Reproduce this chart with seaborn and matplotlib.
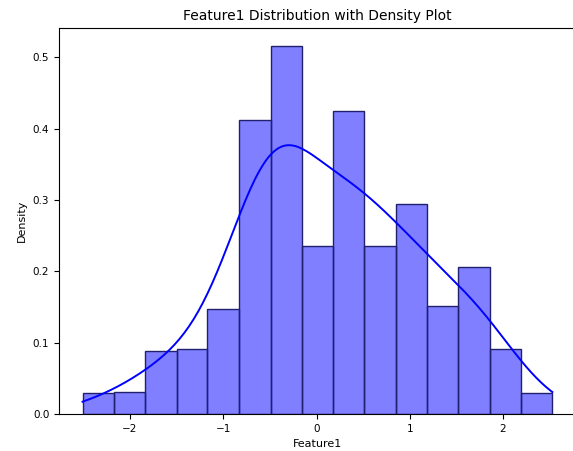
import numpy as np
import pandas as pd
import matplotlib
matplotlib.use("Agg")
import matplotlib.pyplot as plt
import seaborn as sns

# Histogram bin edges and observation counts per bin for Feature1 (n = 100)
bin_edges = [-2.51, -2.17, -1.84, -1.50, -1.17, -0.83, -0.49, -0.16,
             0.18, 0.51, 0.85, 1.19, 1.52, 1.86, 2.19, 2.53]
bin_counts = [1, 1, 3, 3, 5, 14, 17, 8, 14, 8, 10, 5, 7, 3, 1]

edges = np.array(bin_edges)
centers = (edges[:-1] + edges[1:]) / 2
df = pd.DataFrame({"Feature1": centers, "count": bin_counts})

fig = plt.figure(figsize=(5.73, 4.51), dpi=100)
ax = fig.add_axes([0.103, 0.082, 0.902, 0.856])

# Weighted KDE uses the effective sample size; rescale bandwidth toward n = 100
sns.histplot(
    data=df, x="Feature1", weights="count", bins=bin_edges,
    stat="density", kde=True, color="blue", alpha=0.5,
    edgecolor="#20206e", linewidth=1.0,
    kde_kws=dict(cut=3, clip=(bin_edges[0], bin_edges[-1]), bw_adjust=0.6),
    line_kws=dict(linewidth=1.4),
    ax=ax,
)

ax.set_title("Feature1 Distribution with Density Plot", fontsize=10)
ax.set_xlabel("Feature1", fontsize=8)
ax.set_ylabel("Density", fontsize=8)
ax.tick_params(labelsize=7.5)

fig.savefig("out.png", dpi=100)
